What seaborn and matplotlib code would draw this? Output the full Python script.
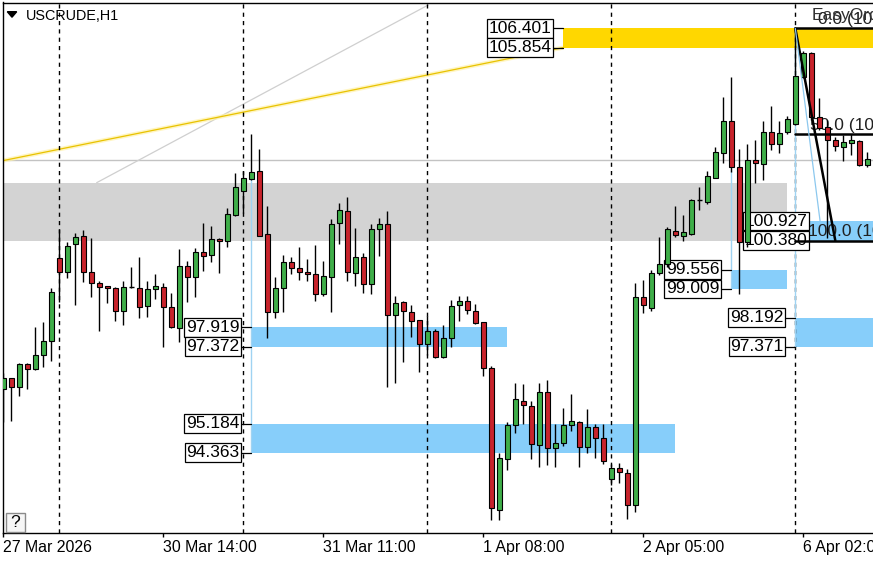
import matplotlib
matplotlib.use("Agg")
import matplotlib.pyplot as plt
from matplotlib.patches import Rectangle, Polygon
import numpy as np
import pandas as pd
import seaborn as sns

symbol = "USCRUDE,H1"

opens = [96.16, 96.47, 96.22, 96.87, 96.73, 97.12, 97.52, 99.88, 99.50, 100.27,
         100.51, 99.48, 99.17, 99.08, 99.03, 98.39, 99.05, 99.03, 98.53, 99.00,
         99.07, 98.49, 97.89, 99.67, 99.35, 100.06, 99.97, 100.42, 100.37, 101.11,
         101.79, 102.12, 102.35, 100.56, 98.36, 99.03, 99.78, 99.59, 99.48, 99.42,
         98.86, 99.35, 100.87, 101.22, 99.45, 99.91, 99.14, 100.70, 100.85, 98.27,
         98.63, 98.34, 98.13, 97.44, 97.80, 97.07, 97.61, 98.55, 98.67, 98.39,
         98.06, 96.76, 92.74, 94.17, 95.15, 95.84, 95.69, 94.58, 96.09, 94.49,
         94.65, 95.14, 95.24, 94.53, 95.08, 94.77, 93.61, 93.92, 93.78, 92.88,
         98.77, 98.47, 99.45, 99.72, 100.66, 100.51, 100.56, 101.53, 101.48, 102.16,
         102.86, 103.77, 102.46, 100.35, 102.67, 102.55, 103.45, 103.12, 103.47, 103.69,
         105.03, 105.69, 103.89, 103.59, 103.23, 103.04, 103.16, 103.20, 102.52]
highs = [96.62, 96.48, 96.92, 96.90, 97.92, 98.08, 99.03, 100.70, 100.35, 100.59,
         100.68, 100.44, 99.23, 99.09, 99.05, 99.23, 99.62, 99.91, 99.24, 99.43,
         99.17, 98.88, 100.13, 99.80, 100.18, 100.89, 100.79, 100.44, 101.30, 102.31,
         102.35, 103.40, 102.98, 101.36, 99.35, 99.97, 99.91, 100.21, 99.85, 100.25,
         99.80, 100.99, 101.45, 101.62, 100.73, 100.02, 100.85, 101.01, 101.21, 98.81,
         98.67, 98.55, 98.14, 98.24, 97.86, 97.98, 98.69, 98.81, 98.81, 98.58,
         98.08, 96.82, 94.36, 95.24, 96.33, 96.31, 95.84, 96.35, 96.42, 95.18,
         95.62, 96.03, 95.26, 95.59, 95.18, 95.18, 94.04, 94.08, 93.90, 99.17,
         99.26, 99.54, 100.48, 100.76, 101.37, 101.11, 101.55, 101.90, 102.36, 103.03,
         104.44, 105.01, 102.99, 103.11, 103.23, 103.77, 104.20, 103.78, 103.91, 106.40,
         105.76, 105.73, 104.42, 103.80, 103.33, 103.36, 103.40, 103.23, 102.90]
lows = [95.24, 95.27, 95.97, 96.17, 96.71, 96.80, 96.97, 98.65, 99.33, 98.55,
        99.21, 98.79, 97.82, 98.60, 98.11, 97.98, 99.02, 98.19, 98.20, 98.71,
        97.35, 97.91, 97.51, 98.65, 98.77, 99.52, 99.78, 99.46, 100.21, 101.08,
        101.15, 102.10, 100.51, 97.61, 98.19, 98.36, 99.43, 99.26, 99.24, 98.67,
        98.82, 98.36, 100.28, 99.24, 99.10, 98.90, 98.86, 99.95, 96.23, 96.33,
        96.93, 97.65, 96.66, 97.13, 97.06, 97.05, 97.37, 98.11, 98.30, 98.01,
        96.54, 92.45, 92.45, 93.87, 94.93, 95.18, 94.17, 93.96, 94.01, 93.96,
        94.55, 94.99, 93.95, 94.36, 94.20, 94.04, 93.45, 93.49, 92.47, 92.69,
        98.32, 98.39, 99.40, 99.64, 100.47, 100.37, 100.54, 101.25, 101.42, 102.15,
        102.59, 102.33, 98.86, 100.21, 102.00, 102.10, 102.95, 102.86, 103.39, 103.66,
        104.99, 103.80, 103.52, 100.45, 102.93, 102.64, 102.82, 102.50, 102.48]
closes = [96.47, 96.22, 96.87, 96.73, 97.12, 97.54, 98.91, 99.50, 100.23, 100.49,
          99.48, 99.17, 99.07, 99.03, 98.39, 99.05, 99.05, 98.50, 99.00, 99.09,
          98.49, 97.94, 99.67, 99.35, 100.06, 99.95, 100.42, 100.37, 101.12, 101.89,
          102.15, 102.33, 100.52, 98.36, 99.03, 99.78, 99.59, 99.48, 99.42, 98.86,
          99.37, 100.85, 101.24, 99.48, 99.91, 99.14, 100.70, 100.84, 98.27, 98.62,
          98.39, 98.11, 97.44, 97.81, 97.09, 97.61, 98.53, 98.67, 98.41, 98.05,
          96.76, 92.78, 94.20, 95.15, 95.88, 95.72, 94.61, 96.09, 94.49, 94.65,
          95.15, 95.26, 94.53, 95.08, 94.77, 94.13, 93.92, 93.81, 92.88, 98.79,
          98.55, 99.45, 99.71, 100.71, 100.54, 100.63, 101.53, 101.53, 102.21, 102.90,
          103.77, 102.48, 100.35, 102.67, 102.57, 103.45, 103.12, 103.42, 103.83, 105.05,
          105.69, 103.89, 103.57, 103.23, 103.06, 103.18, 103.23, 102.52, 102.69]

tick_bars = [0, 20, 40, 60, 80, 100]
tick_labels = ["27 Mar 2026", "30 Mar 14:00", "31 Mar 11:00", "1 Apr 08:00",
               "2 Apr 05:00", "6 Apr 02:00"]
day_breaks = [7, 30, 53, 76, 99]

# price zones (top, bottom, first bar, last bar or None = to the right edge)
zone_top = [106.401, 97.919, 95.184, 99.556, 98.192, 100.927]
zone_bottom = [105.854, 97.372, 94.363, 99.009, 97.371, 100.380]
zone_from = [70, 31, 31, 91, 99, 99]
zone_to = [None, 62.9, 84, 97.9, None, None]

grey_zone = (100.380, 102.021)
grey_level = 102.673
fib_high, fib_low = 106.401, 100.380
fib_levels = [0.0, 50.0, 100.0]

df = pd.DataFrame({"open": opens, "high": highs, "low": lows, "close": closes})
df["bar"] = np.arange(len(df))

sns.set_theme(style="white")
plt.rcParams["font.family"] = ["Liberation Sans", "DejaVu Sans"]

W, H = 873, 562
fig = plt.figure(figsize=(W / 100, H / 100), dpi=100)
fig.patch.set_facecolor("white")
AX_L, AX_T, AX_B = 2.5, 2.5, 533.3
ax = fig.add_axes([AX_L / W, 1 - AX_B / H, 1 - AX_L / W + 0.01, (AX_B - AX_T) / H])
ax.set_facecolor("white")
PX = 8.0  # pixels per bar
ax.set_xlim(-0.1, -0.1 + (W - AX_L) / PX + 0.01 * W / PX)
ax.set_ylim(92.075, 107.133)
right = ax.get_xlim()[1]
left = ax.get_xlim()[0]

blue = "#87cefa"
# grey zone
ax.add_patch(Rectangle((left, grey_zone[0]), 97.9 - left, grey_zone[1] - grey_zone[0],
                       facecolor="#d3d3d3", edgecolor="none", zorder=0.5))
# zones
for i in range(len(zone_top)):
    x0 = zone_from[i]
    x1 = zone_to[i] if zone_to[i] is not None else right
    col = "#ffd700" if i == 0 else blue
    ax.add_patch(Rectangle((x0, zone_bottom[i]), x1 - x0, zone_top[i] - zone_bottom[i],
                           facecolor=col, edgecolor="none", zorder=1))

# grey horizontal level
ax.axhline(grey_level, color="#c3c3c3", lw=1.0, zorder=1.2)
# grey diagonal
ax.plot([11.67, 53.1], [102.021, 107.06], color="#cfcfcf", lw=0.9, zorder=1.2)
# yellow trend line
ax.plot([left, 70], [102.645, 105.854], color="#fff2a8", lw=3.0, alpha=0.7, zorder=1.3,
        solid_capstyle="butt")
ax.plot([left, 70], [102.645, 105.854], color="#e8c200", lw=0.9, zorder=1.35)

# day separators
for b in day_breaks:
    ax.axvline(b, color="black", lw=1.0, ls=(0, (3, 3)), zorder=1.5)

# light blue vertical connectors
ax.plot([31, 31], [102.098, 94.363], color="#9fd3f2", lw=1.0, zorder=1.6)
ax.plot([91, 91], [102.38, 99.009], color="#9fd3f2", lw=1.0, zorder=1.6)
ax.plot([99, 99], [106.401, 97.371], color="#9fd3f2", lw=1.0, zorder=1.6)

# fib texts (under candles)
fib_text_x = [101.8, 100.8, 100.6]
for lvl, tx in zip(fib_levels, fib_text_x):
    price = fib_high - (fib_high - fib_low) * lvl / 100.0
    ax.text(tx, price + 0.03, f"{lvl:.1f} ({price:.3f})", fontsize=12.5, color="#202020",
            ha="left", va="bottom", zorder=2)
ax.text(101.1, 106.55, "EasyOrder", fontsize=12.5, color="#303030", ha="left",
        va="bottom", zorder=2)

# price label boxes
box = dict(boxstyle="square,pad=0.1", fc="white", ec="black", lw=0.9)
for i in range(len(zone_top)):
    x0 = zone_from[i]
    if i == 5:
        xr = x0 + 14 / PX
    else:
        xr = x0 - 10 / PX
        for p in (zone_top[i], zone_bottom[i]):
            ax.plot([xr, x0], [p, p], color="black", lw=0.9, zorder=3)
    for p in (zone_top[i], zone_bottom[i]):
        ax.text(xr - 1.8 / PX, p, f"{p:.3f}", fontsize=12.5, color="black", ha="right",
                va="center", bbox=box, zorder=3)

# candles
up = df[df.close > df.open]
dn = df[df.close < df.open]
flat = df[df.close == df.open]
ax.vlines(df.bar, df.low, df.high, color="black", lw=1.0, zorder=4)
ax.bar(up.bar, up.close - up.open, bottom=up.open, width=0.62, color="#3fae49",
       edgecolor="black", linewidth=0.8, zorder=4.2)
ax.bar(dn.bar, dn.open - dn.close, bottom=dn.close, width=0.62, color="#c8232c",
       edgecolor="black", linewidth=0.8, zorder=4.2)
ax.hlines(flat.open, flat.bar - 0.35, flat.bar + 0.35, color="black", lw=1.0, zorder=4.2)

# fib lines
for lvl in fib_levels:
    price = fib_high - (fib_high - fib_low) * lvl / 100.0
    ax.plot([99, right], [price, price], color="black", lw=1.8, zorder=5)
ax.plot([99, 104], [fib_high, fib_low], color="black", lw=1.8, zorder=5)
ax.plot([99, 102.1], [fib_high, 100.927], color="#8cc8ee", lw=0.9, zorder=5)

# axes cosmetics
ax.set_yticks([])
ax.set_xticks(tick_bars)
ax.set_xticklabels(tick_labels, ha="left")
ax.tick_params(axis="x", bottom=True, length=3, width=1, direction="out", pad=1.5,
               labelsize=11.4, colors="black")
for s in ("left", "top", "bottom"):
    ax.spines[s].set_visible(True)
    ax.spines[s].set_color("black")
    ax.spines[s].set_linewidth(1.0)
ax.spines["right"].set_visible(False)

# title and little widgets
fig.text(26 / W, 1 - 15.5 / H, symbol, fontsize=10.4, color="black", ha="left", va="center")
fig.patches.append(Polygon([[7.3 / W, 1 - 11.7 / H], [16.7 / W, 1 - 11.7 / H],
                            [12 / W, 1 - 17.2 / H]], closed=True, transform=fig.transFigure,
                           facecolor="black", edgecolor="black"))
fig.patches.append(Rectangle((6 / W, 1 - 532 / H), 19 / W, 19 / H, transform=fig.transFigure,
                             facecolor="#f6f6f6", edgecolor="#8a8a8a", lw=1.0))
fig.text(15.5 / W, 1 - 522.5 / H, "?", fontsize=12.5, color="black", ha="center",
         va="center")

fig.savefig("out.png", dpi=100)
